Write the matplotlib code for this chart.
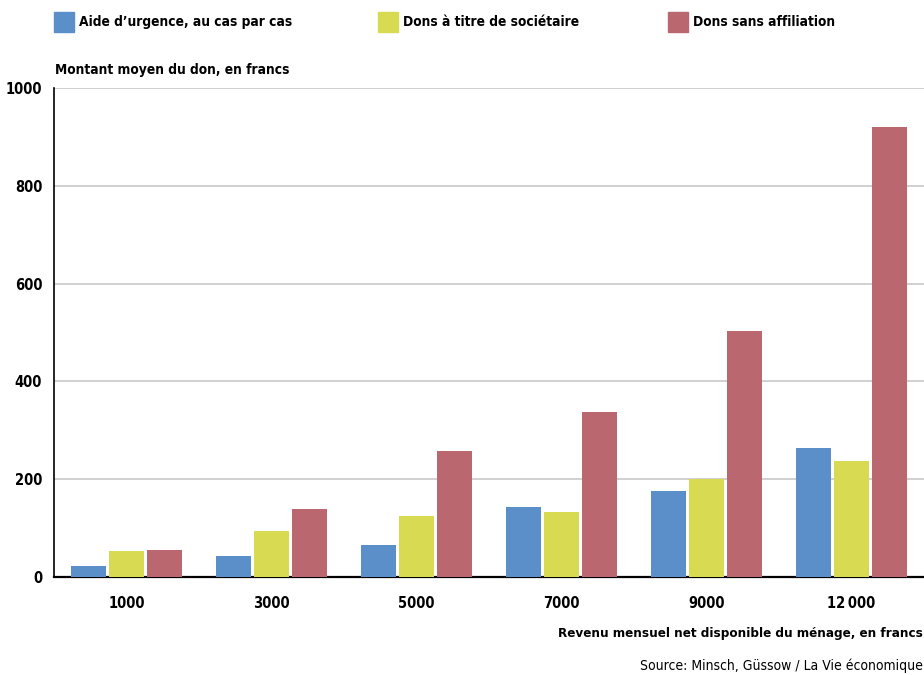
import numpy as np
import matplotlib.pyplot as plt
from matplotlib.patches import Rectangle

categories = ["1000", "3000", "5000", "7000", "9000", "12\u2009000"]
urgence = [22, 43, 65, 143, 176, 264]
societaire = [53, 94, 125, 133, 200, 237]
sans_affil = [55, 139, 258, 337, 503, 920]

series = [("Aide d\u2019urgence, au cas par cas", urgence, "#5b8fc9"),
          ("Dons \u00e0 titre de soci\u00e9taire", societaire, "#d8db51"),
          ("Dons sans affiliation", sans_affil, "#bb6770")]

txt = dict(family="DejaVu Sans", stretch="condensed")

fig = plt.figure(figsize=(9.24, 6.75), dpi=100)
ax = fig.add_axes([54 / 924, 1 - 577 / 675, 870 / 924, 489 / 675])

x = np.arange(len(categories))
w = 0.242
step = 0.265
for i, (name, vals, col) in enumerate(series):
    ax.bar(x + (i - 1) * step, vals, width=w, color=col, zorder=3)

ax.set_xlim(-0.5, len(categories) - 0.5)
ax.set_ylim(0, 1000)
ax.set_yticks(range(0, 1001, 200))
ax.yaxis.grid(True, color="#c8c8c8", linewidth=1.2, zorder=0)
ax.set_xticks(x)
ax.set_xticklabels(categories)
for lab in ax.get_xticklabels() + ax.get_yticklabels():
    lab.set_fontsize(10.5)
    lab.set_fontweight("bold")
    lab.set_family(txt["family"])
    lab.set_stretch(txt["stretch"])
ax.tick_params(length=0, pad=14)
ax.tick_params(axis="y", pad=8.5)
for s in ["top", "right"]:
    ax.spines[s].set_visible(False)
ax.spines["left"].set_linewidth(1.2)
ax.spines["bottom"].set_linewidth(1.6)

# legend row along the top
leg_x = [54, 378, 668]
for (name, vals, col), lx in zip(series, leg_x):
    fig.patches.append(Rectangle((lx / 924, 1 - 32 / 675), 20 / 924, 20 / 675,
                                 transform=fig.transFigure, color=col))
    fig.text((lx + 25) / 924, 1 - 22 / 675, name, fontsize=9.9, fontweight="bold",
             va="center", **txt)

fig.text(55 / 924, 1 - 70 / 675, "Montant moyen du don, en francs", fontsize=9.9,
         fontweight="bold", va="center", **txt)
fig.text(923 / 924, 1 - 634 / 675, "Revenu mensuel net disponible du m\u00e9nage, en francs",
         fontsize=9.6, fontweight="bold", va="center", ha="right", **txt)
fig.text(923 / 924, 1 - 666 / 675, "Source: Minsch, G\u00fcssow / La Vie \u00e9conomique",
         fontsize=10, va="center", ha="right", **txt)

fig.savefig("out.png", dpi=100)
